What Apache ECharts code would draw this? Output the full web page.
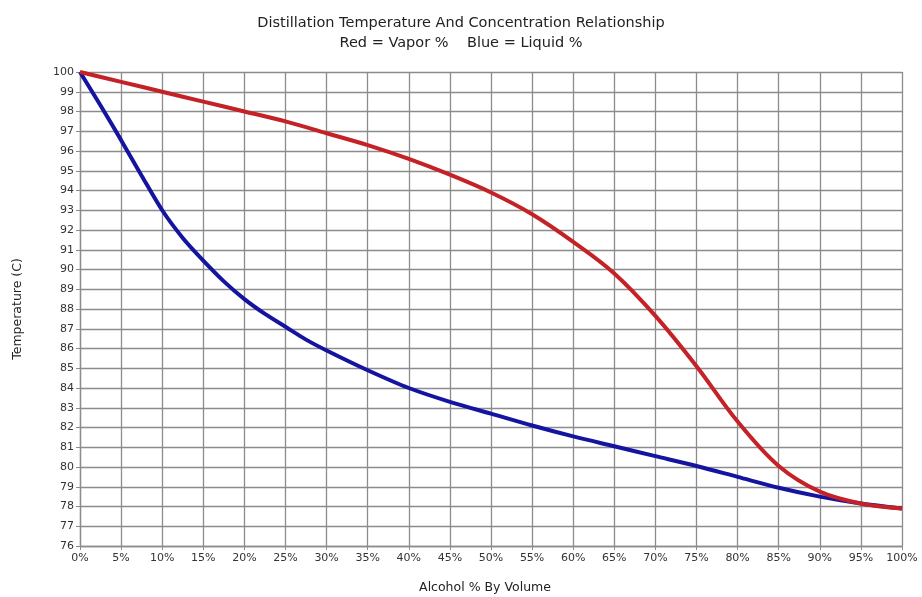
<!DOCTYPE html>
<html>
<head>
<meta charset="utf-8">
<script src="https://cdn.jsdelivr.net/npm/echarts@6/dist/echarts.min.js"></script>
<style>html,body{margin:0;padding:0;background:#fff}#c{width:922px;height:597px}</style>
</head>
<body>
<div id="c"></div>
<script>
var vaporX = [0, 5, 10, 15, 20, 25, 30, 35, 40, 45, 50, 55, 60, 65, 70, 75, 80, 85, 90, 95, 100];
var vaporTemp = [100, 99.5, 99.0, 98.5, 98.0, 97.5, 96.9, 96.3, 95.6, 94.8, 93.9, 92.8, 91.4, 89.8, 87.65, 85.1, 82.3, 80.05, 78.75, 78.15, 77.9];
var liquidX = [0, 2.5, 5, 7.5, 10, 12.5, 15, 17.5, 20, 22.5, 25, 27.5, 30, 35, 40, 45, 50, 55, 60, 65, 70, 75, 80, 85, 90, 95, 100];
var liquidTemp = [100, 98.3, 96.55, 94.75, 93.0, 91.6, 90.45, 89.4, 88.5, 87.75, 87.1, 86.45, 85.9, 84.9, 84.0, 83.3, 82.7, 82.1, 81.55, 81.05, 80.55, 80.05, 79.5, 78.95, 78.5, 78.15, 77.9];
var titleLines = ['Distillation Temperature And Concentration Relationship', 'Red = Vapor %    Blue = Liquid %'];
var xName = 'Alcohol % By Volume';
var yName = 'Temperature (C)';

function pairs(xs, ys) { return xs.map(function (x, i) { return [x, ys[i]]; }); }

var chart = echarts.init(document.getElementById('c'), null, { renderer: 'canvas' });
var gridColor = '#8c8c8c';
chart.setOption({
  animation: false,
  backgroundColor: '#ffffff',
  title: {
    text: titleLines.join('\n'),
    left: 'center',
    top: 8,
    textStyle: { fontFamily: 'DejaVu Sans, sans-serif', fontSize: 14.5, fontWeight: 'normal', color: '#222', lineHeight: 20 }
  },
  grid: { left: 80, right: 20, top: 72, bottom: 51, outerBoundsMode: 'none', containLabel: false },
  xAxis: {
    type: 'value', min: 0, max: 100, interval: 5,
    name: xName, nameLocation: 'middle', nameGap: 35,
    nameTextStyle: { fontFamily: 'DejaVu Sans, sans-serif', fontSize: 12.5, color: '#222', padding: [0, 12, 0, 0] },
    axisLine: { show: true, lineStyle: { color: gridColor, width: 1.3 } },
    axisTick: { show: true, length: 4, lineStyle: { color: gridColor } },
    axisLabel: { formatter: '{value}%', fontFamily: 'DejaVu Sans, sans-serif', fontSize: 11, color: '#333', margin: 7 },
    splitLine: { show: true, lineStyle: { color: gridColor, width: 1.3 } }
  },
  yAxis: {
    type: 'value', min: 76, max: 100, interval: 1,
    name: yName, nameLocation: 'middle', nameGap: 56, nameRotate: 90,
    nameTextStyle: { fontFamily: 'DejaVu Sans, sans-serif', fontSize: 12.5, color: '#222' },
    axisLine: { show: true, lineStyle: { color: gridColor, width: 1.3 } },
    axisTick: { show: true, length: 4, lineStyle: { color: gridColor } },
    axisLabel: { fontFamily: 'DejaVu Sans, sans-serif', fontSize: 11, color: '#333', margin: 6 },
    splitLine: { show: true, lineStyle: { color: gridColor, width: 1.3 } }
  },
  series: [
    {
      name: 'Liquid', type: 'line', data: pairs(liquidX, liquidTemp), smooth: 0.3, showSymbol: false,
      lineStyle: { color: '#1414a0', width: 4 }, z: 3
    },
    {
      name: 'Vapor', type: 'line', data: pairs(vaporX, vaporTemp), smooth: 0.35, showSymbol: false,
      lineStyle: { color: '#c42226', width: 4 }, z: 4
    }
  ]
});
</script>
</body>
</html>
